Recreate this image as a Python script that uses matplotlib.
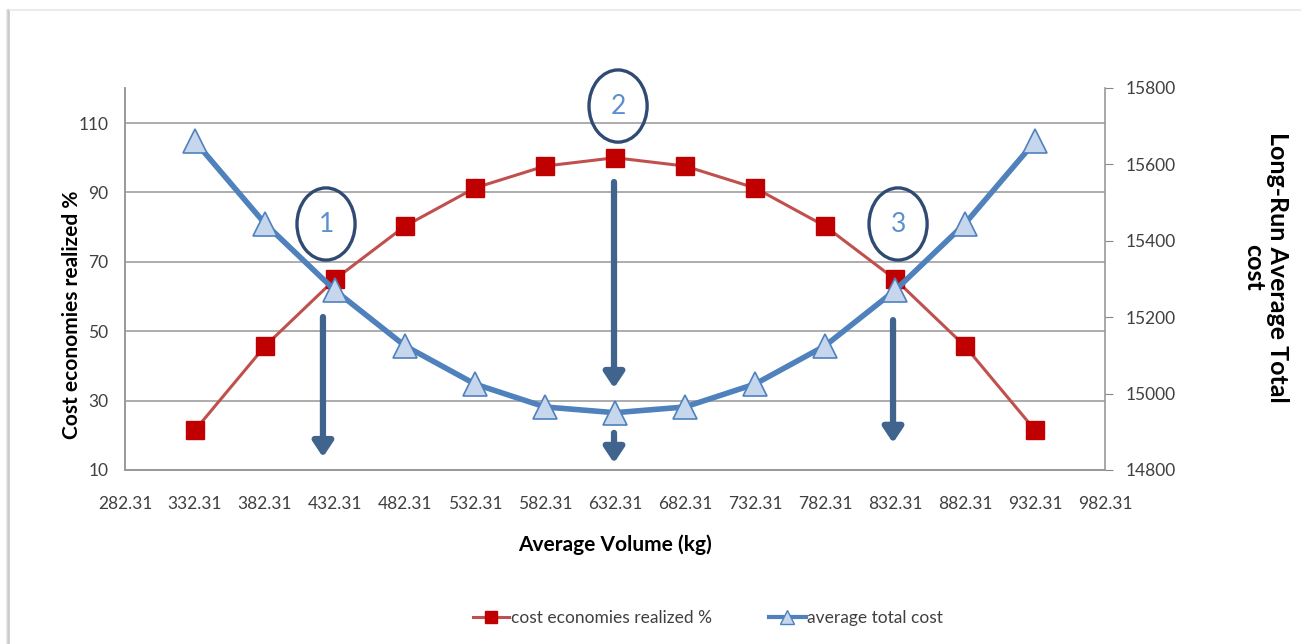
import matplotlib
matplotlib.use("Agg")
import matplotlib.pyplot as plt
from matplotlib.patches import Ellipse
from matplotlib.lines import Line2D

plt.rcParams['font.family'] = ['Lato', 'DejaVu Sans']

# data
volume = [332.31, 382.31, 432.31, 482.31, 532.31, 582.31, 632.31,
          682.31, 732.31, 782.31, 832.31, 882.31, 932.31]
economies = [21.5, 45.7, 65.0, 80.3, 91.3, 97.6, 100.0,
             97.6, 91.3, 80.3, 65.0, 45.7, 21.5]
avg_cost = [15660, 15445, 15270, 15125, 15025, 14965, 14950,
            14965, 15025, 15125, 15270, 15445, 15660]
x_ticks = [282.31 + 50 * i for i in range(15)]
left_ticks = [10, 30, 50, 70, 90, 110]
right_ticks = [14800, 15000, 15200, 15400, 15600, 15800]

red_line = '#C0504D'
red_mark = '#C00000'
blue_line = '#4F81BD'
blue_fill = '#C6D6EC'
arrow_col = '#41648F'
txt_col = '#404040'

fig = plt.figure(figsize=(13.07, 6.44), dpi=100)

# chart border with soft shadow on the left
for i, c in enumerate(['#E6E6E6', '#D4D4D4', '#C8C8C8']):
    fig.add_artist(Line2D([(7 + i) / 1307] * 2, [0, 1 - 10 / 644],
                          color=c, lw=1.2, transform=fig.transFigure))
fig.add_artist(Line2D([10 / 1307, 1300 / 1307], [1 - 10 / 644] * 2,
                      color='#EBEBEB', lw=1.5, transform=fig.transFigure))

ax = fig.add_axes([125 / 1307, 1 - 470 / 644, 980 / 1307, 382 / 644])
ax2 = ax.twinx()

ax.set_xlim(282.31, 982.31)
ax.set_ylim(10, 120.1)
ax2.set_ylim(14800, 15800)

ax.set_xticks(x_ticks)
ax.set_xticklabels(['%.2f' % v for v in x_ticks])
ax.set_yticks(left_ticks)
ax2.set_yticks(right_ticks)
ax.tick_params(axis='x', length=0, labelsize=12.5, colors=txt_col, pad=19)
ax.tick_params(axis='y', length=0, labelsize=12.5, colors=txt_col, pad=12)
ax2.tick_params(axis='y', length=6, direction='out', color='#888888',
                labelsize=12.5, labelcolor=txt_col, pad=9)

ax.grid(axis='y', color='#A6A6A6', lw=1.3)
ax.set_axisbelow(True)
for a in (ax, ax2):
    a.spines['top'].set_visible(False)
    for s in ('left', 'right', 'bottom'):
        a.spines[s].set_color('#999999')
        a.spines[s].set_linewidth(1.2)
ax.spines['right'].set_visible(False)

ax.plot(volume, economies, color=red_line, lw=2.2, marker='s', ms=13,
        mfc=red_mark, mec=red_mark, zorder=3)
ax2.plot(volume, avg_cost, color=blue_line, lw=4, marker='^', ms=17,
         mfc=blue_fill, mec=blue_line, mew=1.2, zorder=3)

ax.set_xlabel('Average Volume (kg)', fontsize=15, fontweight='bold',
              va='center')
ax.xaxis.set_label_coords(0.5, -(545 - 470) / 382)
ax.set_ylabel('Cost economies realized %', fontsize=15, fontweight='bold',
              va='center')
ax.yaxis.set_label_coords((72 - 125) / 980, (470 - 315) / 382)
fig.text(1266 / 1307, 1 - 267 / 644, 'Long-Run Average Total\ncost',
         rotation=270, ha='center', va='center', fontsize=18,
         fontweight='bold', linespacing=1.05)

# numbered circles and arrows
for cx, cy, label in [(425.9, 80.9, '1'), (634.5, 114.9, '2'), (834.5, 80.9, '3')]:
    ax.add_patch(Ellipse((cx, cy), 41.5, 20.8, fill=False, ec='#2F4B73',
                         lw=2.4, clip_on=False, zorder=5))
    ax.text(cx, cy, label, ha='center', va='center', fontsize=19,
            color='#5B8FD0', zorder=6, clip_on=False)

for x0, y0, y1 in [(423.7, 54.1, 13.7), (631.6, 93.0, 33.6),
                   (631.6, 20.7, 12.0), (830.9, 53.2, 17.8)]:
    ax.annotate('', xy=(x0, y1), xytext=(x0, y0),
                arrowprops=dict(arrowstyle='-|>,head_length=0.45,head_width=0.3',
                                color=arrow_col, lw=4.5, shrinkA=0, shrinkB=0,
                                mutation_scale=20), zorder=4)

handles = [Line2D([], [], color=red_line, lw=2.2, marker='s', ms=9,
                  mfc=red_mark, mec=red_mark),
           Line2D([], [], color=blue_line, lw=3, marker='^', ms=10,
                  mfc=blue_fill, mec=blue_line)]
fig.legend(handles, ['cost economies realized %', 'average total cost'],
           loc='center', bbox_to_anchor=(708 / 1307, 1 - 618 / 644), ncol=2,
           frameon=False, fontsize=12.5, handlelength=2.1, handletextpad=0.1,
           columnspacing=3.3, labelcolor=txt_col)

fig.savefig('out.png', dpi=100, facecolor='white')
